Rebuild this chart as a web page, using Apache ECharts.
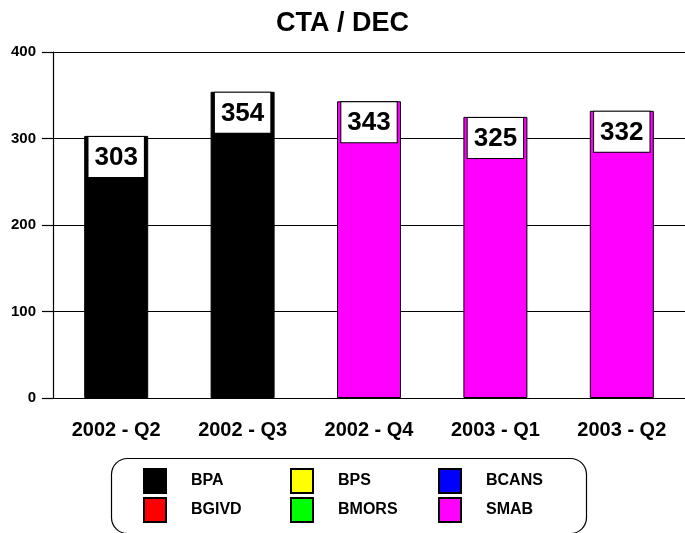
<!DOCTYPE html>
<html>
<head>
<meta charset="utf-8">
<script src="https://cdn.jsdelivr.net/npm/echarts@6/dist/echarts.min.js"></script>
<style>
html,body{margin:0;padding:0;background:#fff;}
#chart{width:685px;height:533px;}
</style>
</head>
<body>
<div id="chart"></div>
<script>
const categories = ['2002 - Q2', '2002 - Q3', '2002 - Q4', '2003 - Q1', '2003 - Q2'];
const bpa   = [303, 354, null, null, null];
const bps   = [null, null, null, null, null];
const bcans = [null, null, null, null, null];
const bgivd = [null, null, null, null, null];
const bmors = [null, null, null, null, null];
const smab  = [null, null, 343, 325, 332];
const yMin = 0, yMax = 400, yStep = 100;

const FONT = '"Liberation Sans", Arial, sans-serif';

const seriesDefs = [
  { name: 'BPA',   data: bpa,   color: '#000000' },
  { name: 'BPS',   data: bps,   color: '#ffff00' },
  { name: 'BCANS', data: bcans, color: '#0000ff' },
  { name: 'BGIVD', data: bgivd, color: '#ff0000' },
  { name: 'BMORS', data: bmors, color: '#00ff00' },
  { name: 'SMAB',  data: smab,  color: '#ff00ff' }
];

const chart = echarts.init(document.getElementById('chart'), null, { renderer: 'canvas' });

function legendCol(names, left) {
  return {
    data: names,
    orient: 'vertical',
    left: left,
    top: 468,
    padding: 0,
    itemGap: 3,
    itemWidth: 22,
    itemHeight: 24,
    icon: 'rect',
    selectedMode: false,
    textStyle: { fontFamily: FONT, fontWeight: 'bold', fontSize: 16, color: '#000', padding: [0, 0, 0, 20] }
  };
}

const option = {
  backgroundColor: '#fff',
  animation: false,
  title: {
    text: 'CTA / DEC',
    left: 'center',
    top: 5,
    textStyle: { fontFamily: FONT, fontWeight: 'bold', fontSize: 27, color: '#000' }
  },
  legend: [
    legendCol(['BPA', 'BGIVD'], 143),
    legendCol(['BPS', 'BMORS'], 290),
    legendCol(['BCANS', 'SMAB'], 438)
  ],
  graphic: [{
    type: 'rect',
    left: 109, top: 456,
    shape: { width: 475, height: 75, r: 16 },
    style: { fill: 'none', stroke: '#000', lineWidth: 1.2 },
    z: -1
  }],
  grid: { left: 53, right: -5, top: 52, bottom: 135, containLabel: false },
  xAxis: [{
    type: 'category',
    data: categories,
    position: 'bottom',
    axisLine: { lineStyle: { color: '#000', width: 1.2 } },
    axisTick: { alignWithLabel: true, length: 13, lineStyle: { color: '#000', width: 1.2 } },
    axisLabel: { margin: 22, fontFamily: FONT, fontWeight: 'bold', fontSize: 20, color: '#000', interval: 0 }
  }, {
    type: 'category',
    data: categories,
    position: 'bottom',
    axisLine: { show: false },
    axisTick: { length: 3, lineStyle: { color: '#000', width: 1 } },
    axisLabel: { show: false }
  }],
  yAxis: {
    type: 'value',
    min: yMin, max: yMax, interval: yStep,
    axisLine: { show: true, lineStyle: { color: '#000', width: 1.2 } },
    axisTick: { show: true, length: 11, lineStyle: { color: '#000', width: 1.2 } },
    axisLabel: { margin: 17, fontFamily: FONT, fontWeight: 'bold', fontSize: 15, color: '#000' },
    splitLine: { show: true, lineStyle: { color: '#000', width: 1.2 } }
  },
  series: seriesDefs.map(s => ({
    name: s.name,
    type: 'bar',
    stack: 'total',
    xAxisIndex: 0,
    barWidth: 64,
    data: s.data,
    itemStyle: { color: s.color, borderColor: '#000', borderWidth: 1 },
    label: {
      show: true,
      position: 'insideTop',
      distance: 1,
      formatter: p => (p.value == null ? '' : String(p.value)),
      backgroundColor: '#fff',
      borderColor: '#000',
      borderWidth: 1,
      padding: [8, 6, 6, 6],
      fontFamily: FONT,
      fontWeight: 'bold',
      fontSize: 26,
      lineHeight: 26,
      color: '#000'
    }
  }))
};

chart.setOption(option);
</script>
</body>
</html>
